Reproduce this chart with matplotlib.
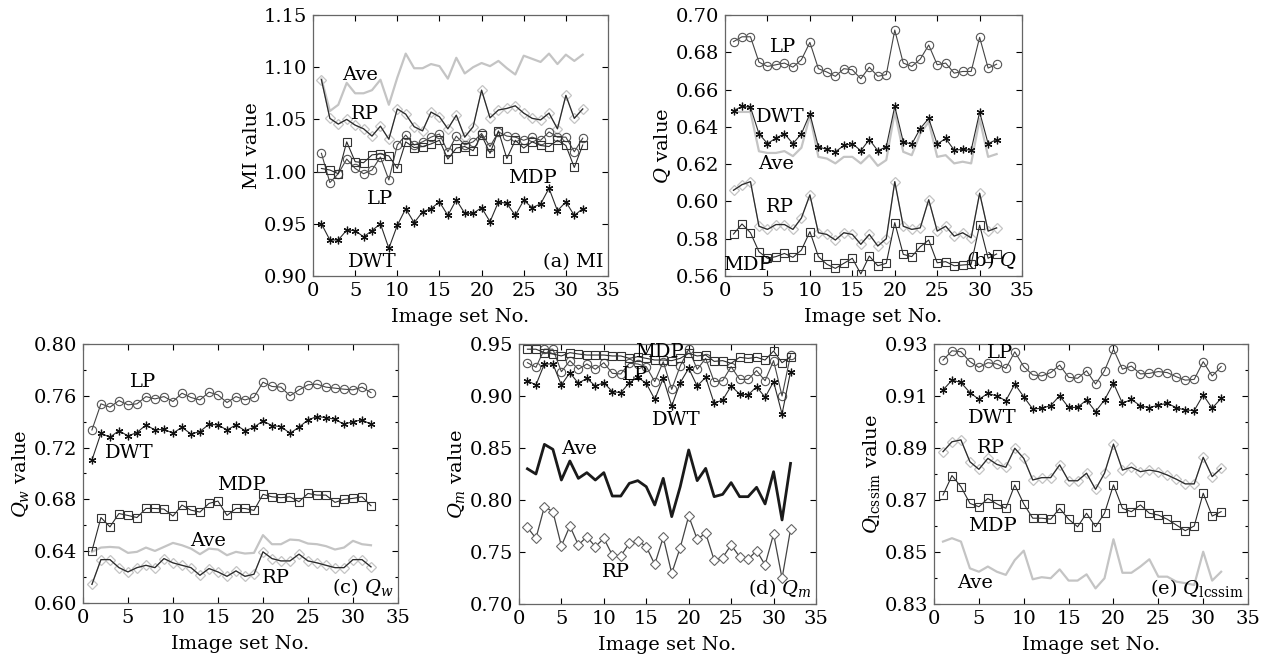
import numpy as np
import matplotlib.pyplot as plt
from matplotlib.ticker import MultipleLocator

plt.rcParams['font.family'] = 'DejaVu Serif'
plt.rcParams['mathtext.fontset'] = 'dejavuserif'
plt.rcParams['font.size'] = 12

x = np.arange(1, 33)  # image set No.

# (a) MI
mi_ave = [1.089, 1.058, 1.064, 1.085, 1.075, 1.075, 1.078, 1.088, 1.064, 1.090, 1.113, 1.099, 1.099, 1.103, 1.101, 1.089,
          1.109, 1.094, 1.100, 1.104, 1.101, 1.106, 1.099, 1.093, 1.111, 1.108, 1.105, 1.113, 1.103, 1.112, 1.106, 1.112]
mi_rp = [1.088, 1.051, 1.0455, 1.050, 1.0445, 1.041, 1.034, 1.0435, 1.031, 1.060, 1.055, 1.043, 1.039, 1.057, 1.0525, 1.041,
         1.054, 1.033, 1.043, 1.078, 1.0515, 1.059, 1.0605, 1.063, 1.056, 1.051, 1.0495, 1.056, 1.041, 1.073, 1.051, 1.060]
mi_lp = [1.0175, 0.9895, 0.998, 1.012, 1.003, 0.998, 1.0015, 1.014, 0.992, 1.0255, 1.035, 1.0255, 1.0285, 1.033, 1.036, 1.019,
         1.034, 1.0255, 1.0285, 1.0365, 1.024, 1.038, 1.034, 1.033, 1.030, 1.033, 1.030, 1.038, 1.033, 1.033, 1.019, 1.032]
mi_mdp = [1.003, 1.0015, 0.998, 1.0285, 1.0095, 1.0085, 1.016, 1.017, 1.015, 1.003, 1.0285, 1.023, 1.024, 1.0265, 1.030, 1.012,
          1.0225, 1.024, 1.020, 1.035, 1.0175, 1.039, 1.0125, 1.030, 1.0225, 1.0285, 1.025, 1.024, 1.030, 1.025, 1.004, 1.0255]
mi_dwt = [0.950, 0.9345, 0.9345, 0.944, 0.9435, 0.9375, 0.9435, 0.950, 0.9265, 0.9485, 0.9645, 0.951, 0.9615, 0.9645, 0.971, 0.958,
          0.973, 0.960, 0.960, 0.9655, 0.952, 0.971, 0.9695, 0.958, 0.9725, 0.9655, 0.969, 0.984, 0.9625, 0.971, 0.958, 0.9645]

# (b) Q
q_lp = [0.6857, 0.6883, 0.6883, 0.6747, 0.6724, 0.6733, 0.6742, 0.672, 0.676, 0.6853, 0.6712, 0.6694, 0.6671, 0.6712, 0.6706, 0.6658,
        0.672, 0.6671, 0.668, 0.6919, 0.6742, 0.6724, 0.6763, 0.6839, 0.6733, 0.6742, 0.6688, 0.6697, 0.6697, 0.688, 0.6715, 0.6736]
q_dwt = [0.6486, 0.651, 0.6505, 0.6363, 0.631, 0.634, 0.6363, 0.631, 0.6363, 0.647, 0.6293, 0.6279, 0.6266, 0.630, 0.631, 0.6272,
         0.6332, 0.6272, 0.6293, 0.651, 0.632, 0.6307, 0.6391, 0.6445, 0.6307, 0.6338, 0.6275, 0.6279, 0.6275, 0.6479, 0.631, 0.6332]
q_ave = [0.648, 0.648, 0.648, 0.6269, 0.626, 0.626, 0.627, 0.6243, 0.6288, 0.646, 0.6239, 0.623, 0.6204, 0.6239, 0.6239, 0.6204,
         0.6248, 0.6191, 0.6222, 0.648, 0.6266, 0.6248, 0.6364, 0.6427, 0.6239, 0.6248, 0.6204, 0.6213, 0.6204, 0.6443, 0.6239, 0.6254]
q_rp = [0.606, 0.609, 0.6106, 0.5867, 0.585, 0.5876, 0.5876, 0.585, 0.5911, 0.6035, 0.5832, 0.5823, 0.5793, 0.5832, 0.5823, 0.577,
        0.5823, 0.5761, 0.580, 0.6106, 0.5867, 0.585, 0.5858, 0.6009, 0.5841, 0.5867, 0.5814, 0.5832, 0.5805, 0.6044, 0.5841, 0.5858]
q_mdp = [0.5825, 0.5879, 0.5832, 0.573, 0.5695, 0.5704, 0.5721, 0.570, 0.5739, 0.5838, 0.5704, 0.5663, 0.5641, 0.5668, 0.5695, 0.5611,
         0.5707, 0.5655, 0.5668, 0.5886, 0.5716, 0.5704, 0.5757, 0.5793, 0.5671, 0.5677, 0.5655, 0.5659, 0.5663, 0.5873, 0.5695, 0.5718]

# (c) Qw
qw_lp = [0.7336, 0.7538, 0.7512, 0.7563, 0.753, 0.7538, 0.7594, 0.7576, 0.7594, 0.7556, 0.762, 0.7587, 0.7568, 0.7628, 0.7607, 0.7548,
         0.7594, 0.7568, 0.7589, 0.7705, 0.7672, 0.7667, 0.760, 0.7646, 0.7685, 0.769, 0.7667, 0.7659, 0.7651, 0.7646, 0.7667, 0.7625]
qw_dwt = [0.7104, 0.7311, 0.728, 0.7331, 0.729, 0.7316, 0.7375, 0.7336, 0.7342, 0.7311, 0.7357, 0.7305, 0.7324, 0.738, 0.7375, 0.7336,
          0.7375, 0.7331, 0.7357, 0.7406, 0.737, 0.7362, 0.7311, 0.7357, 0.7414, 0.744, 0.7432, 0.7419, 0.738, 0.7401, 0.7414, 0.738]
qw_mdp = [0.6402, 0.666, 0.6588, 0.6691, 0.6676, 0.666, 0.673, 0.673, 0.6725, 0.6671, 0.6756, 0.6717, 0.6702, 0.6769, 0.6787, 0.6676,
          0.673, 0.673, 0.6715, 0.6839, 0.682, 0.6813, 0.682, 0.6782, 0.6846, 0.6833, 0.6833, 0.6777, 0.680, 0.6808, 0.682, 0.6751]
qw_ave = [0.6395, 0.6428, 0.6433, 0.6428, 0.6387, 0.6395, 0.6428, 0.6402, 0.6433, 0.6464, 0.6446, 0.642, 0.6377, 0.642, 0.6413, 0.6369,
          0.6395, 0.6382, 0.6387, 0.6524, 0.6454, 0.6454, 0.649, 0.6485, 0.6459, 0.6454, 0.6439, 0.6413, 0.6428, 0.648, 0.6454, 0.6446]
qw_rp = [0.6144, 0.6335, 0.6335, 0.6273, 0.624, 0.6273, 0.6291, 0.6273, 0.6343, 0.631, 0.6291, 0.6273, 0.6214, 0.6266, 0.624, 0.6206,
         0.6248, 0.6206, 0.6222, 0.6395, 0.6343, 0.6325, 0.6325, 0.6377, 0.6325, 0.631, 0.6291, 0.6273, 0.6273, 0.6335, 0.6335, 0.6279]

# (d) Qm
qm_mdp = [0.945, 0.945, 0.9417, 0.9404, 0.9385, 0.9417, 0.9404, 0.9394, 0.9394, 0.9394, 0.9385, 0.9385, 0.9362, 0.9378, 0.9362, 0.9346,
          0.9346, 0.934, 0.9362, 0.941, 0.9385, 0.9394, 0.9333, 0.934, 0.9314, 0.9372, 0.9362, 0.9372, 0.9346, 0.9433, 0.932, 0.9378]
qm_lp = [0.932, 0.9276, 0.945, 0.945, 0.9234, 0.934, 0.9257, 0.9308, 0.9257, 0.932, 0.9218, 0.9212, 0.9314, 0.9308, 0.9282, 0.9138,
         0.933, 0.9064, 0.9289, 0.945, 0.9257, 0.9362, 0.9138, 0.9147, 0.9282, 0.916, 0.916, 0.9244, 0.9147, 0.934, 0.900, 0.9394]
qm_dwt = [0.9147, 0.9106, 0.9308, 0.9308, 0.9106, 0.9224, 0.9122, 0.917, 0.9096, 0.9128, 0.9042, 0.9032, 0.9128, 0.918, 0.9122, 0.8968,
          0.917, 0.8904, 0.9128, 0.9266, 0.9096, 0.918, 0.893, 0.8962, 0.9096, 0.9019, 0.901, 0.909, 0.8987, 0.9138, 0.8827, 0.9234]
qm_ave = [0.830, 0.825, 0.8535, 0.8487, 0.8192, 0.8375, 0.8208, 0.8263, 0.8192, 0.8263, 0.8038, 0.8038, 0.816, 0.8186, 0.8128, 0.7952,
          0.8208, 0.784, 0.8128, 0.8481, 0.8186, 0.8304, 0.8032, 0.8054, 0.8167, 0.8032, 0.8032, 0.8122, 0.7962, 0.8272, 0.7808, 0.8352]
qm_rp = [0.7737, 0.7631, 0.7936, 0.7888, 0.7558, 0.775, 0.7567, 0.7647, 0.7551, 0.7631, 0.7471, 0.7462, 0.7583, 0.7609, 0.7551, 0.7381,
         0.7641, 0.7295, 0.7542, 0.7846, 0.7622, 0.768, 0.7423, 0.7446, 0.7567, 0.7455, 0.7429, 0.7513, 0.7375, 0.7673, 0.7247, 0.7718]

# (e) Qlcssim
ql_lp = [0.9238, 0.9274, 0.927, 0.9232, 0.921, 0.9228, 0.9223, 0.9206, 0.927, 0.9213, 0.9181, 0.9177, 0.919, 0.9219, 0.9172, 0.9168,
         0.9197, 0.9146, 0.9197, 0.928, 0.9203, 0.9215, 0.9185, 0.9187, 0.9194, 0.919, 0.9174, 0.9161, 0.9164, 0.9232, 0.9177, 0.9213]
ql_dwt = [0.9123, 0.9161, 0.9152, 0.9113, 0.9087, 0.911, 0.910, 0.9082, 0.9146, 0.9097, 0.905, 0.9053, 0.9063, 0.9101, 0.9056, 0.9056,
          0.9085, 0.904, 0.9085, 0.9149, 0.9072, 0.9087, 0.9062, 0.9055, 0.9065, 0.9072, 0.9055, 0.9046, 0.9044, 0.9104, 0.9053, 0.9091]
ql_rp = [0.8886, 0.8924, 0.8931, 0.8847, 0.8818, 0.886, 0.8837, 0.8826, 0.8899, 0.886, 0.8777, 0.8786, 0.8786, 0.8835, 0.8774, 0.8774,
         0.8803, 0.8741, 0.8803, 0.8915, 0.8815, 0.8826, 0.8809, 0.8815, 0.8809, 0.8796, 0.878, 0.8762, 0.8762, 0.8864, 0.879, 0.8822]
ql_mdp = [0.8719, 0.8794, 0.8751, 0.8687, 0.8674, 0.8706, 0.8685, 0.8668, 0.8758, 0.8685, 0.863, 0.863, 0.8626, 0.8668, 0.8626, 0.8597,
          0.8649, 0.8597, 0.8649, 0.8758, 0.8668, 0.8655, 0.8681, 0.8649, 0.8642, 0.8626, 0.8604, 0.8582, 0.860, 0.8726, 0.8638, 0.8655]
ql_ave = [0.854, 0.8553, 0.854, 0.8437, 0.8424, 0.8444, 0.8424, 0.8412, 0.8469, 0.8505, 0.8395, 0.8403, 0.8399, 0.8433, 0.839, 0.839,
          0.8414, 0.836, 0.8399, 0.8549, 0.842, 0.842, 0.8444, 0.8472, 0.8405, 0.8405, 0.8386, 0.838, 0.8373, 0.8501, 0.839, 0.8424]

GRAY = '#c4c4c4'
DARK = '#2a2a2a'
FS = 14


def draw(ax, ave, rp, lp, mdp, dwt, ave_dark=False):
    if ave_dark:
        ax.plot(x, ave, color='#1a1a1a', lw=2.0)
        ax.plot(x, rp, color='#444444', lw=0.9, marker='D', ms=5, mfc='white', mec='#666666', mew=0.8)
    else:
        ax.plot(x, ave, color=GRAY, lw=1.6)
        ax.plot(x, rp, color=GRAY, lw=0.9, marker='D', ms=5, mfc='none', mec=GRAY, mew=0.9)
        ax.plot(x, rp, color=DARK, lw=0.9)
    ax.plot(x, lp, color='#444444', lw=0.8, marker='o', ms=6, mfc='none', mec='#555555', mew=0.8)
    ax.plot(x, mdp, color=DARK, lw=0.8, marker='s', ms=6, mfc='none', mec='#333333', mew=0.8)
    ax.plot(x, dwt, color=DARK, lw=0.8, marker=(6, 2, 0), ms=5.5, mec='#111111', mew=0.9)


def style(ax, ylo, yhi, ystep, ylabel, tag, minor=None):
    ax.set_xlim(0, 35)
    ax.set_ylim(ylo, yhi)
    ax.set_xticks(np.arange(0, 36, 5))
    ax.set_yticks(np.arange(ylo, yhi + ystep / 2, ystep))
    ax.yaxis.set_major_formatter(plt.FormatStrFormatter('%.2f'))
    if minor:
        ax.yaxis.set_minor_locator(MultipleLocator(minor))
    ax.tick_params(direction='in', which='both', top=True, right=True, labelsize=FS, length=4, width=0.8, pad=4)
    ax.tick_params(which='minor', length=2.5)
    for s in ax.spines.values():
        s.set_color('#666666')
        s.set_linewidth(0.9)
    ax.set_xlabel('Image set No.', fontsize=FS, labelpad=6)
    ax.set_ylabel(ylabel, fontsize=FS, labelpad=2)
    ax.text(0.985, 0.02, tag, transform=ax.transAxes, ha='right', va='bottom', fontsize=FS)


fig = plt.figure(figsize=(12.76, 6.57), dpi=100)
ax_a = fig.add_axes([0.2453, 0.5799, 0.2312, 0.3973])
ax_b = fig.add_axes([0.5682, 0.5799, 0.2328, 0.3973])
ax_c = fig.add_axes([0.0650, 0.0822, 0.2469, 0.3942])
ax_d = fig.add_axes([0.4067, 0.0807, 0.2328, 0.3957])
ax_e = fig.add_axes([0.7320, 0.0807, 0.2461, 0.3957])

draw(ax_a, mi_ave, mi_rp, mi_lp, mi_mdp, mi_dwt)
style(ax_a, 0.90, 1.15, 0.05, 'MI value', '(a) MI')
for t, tx, ty in [('Ave', 5.6, 1.0925), ('RP', 6.2, 1.055), ('LP', 8.0, 0.974), ('MDP', 26.0, 0.994), ('DWT', 7.0, 0.913)]:
    ax_a.text(tx, ty, t, ha='center', va='center', fontsize=FS)

draw(ax_b, q_ave, q_rp, q_lp, q_mdp, q_dwt)
style(ax_b, 0.56, 0.70, 0.02, '$Q$ value', '(b) $Q$')
for t, tx, ty in [('LP', 6.8, 0.6828), ('DWT', 6.5, 0.6453), ('Ave', 6.0, 0.620), ('RP', 6.5, 0.597), ('MDP', 2.6, 0.566)]:
    ax_b.text(tx, ty, t, ha='center', va='center', fontsize=FS)

draw(ax_c, qw_ave, qw_rp, qw_lp, qw_mdp, qw_dwt)
style(ax_c, 0.60, 0.80, 0.04, '$Q_w$ value', '(c) $Q_w$', minor=0.02)
for t, tx, ty in [('LP', 6.7, 0.7707), ('DWT', 5.2, 0.716), ('MDP', 17.6, 0.691), ('Ave', 13.9, 0.648), ('RP', 21.4, 0.619)]:
    ax_c.text(tx, ty, t, ha='center', va='center', fontsize=FS)

draw(ax_d, qm_ave, qm_rp, qm_lp, qm_mdp, qm_dwt, ave_dark=True)
style(ax_d, 0.70, 0.95, 0.05, '$Q_m$ value', '(d) $Q_m$')
for t, tx, ty in [('MDP', 16.6, 0.942), ('LP', 13.7, 0.920), ('DWT', 18.5, 0.877), ('Ave', 7.1, 0.849), ('RP', 11.4, 0.731)]:
    ax_d.text(tx, ty, t, ha='center', va='center', fontsize=FS)

draw(ax_e, ql_ave, ql_rp, ql_lp, ql_mdp, ql_dwt)
style(ax_e, 0.83, 0.93, 0.02, '$Q_{\\rm lcssim}$ value', '(e) $Q_{\\rm lcssim}$', minor=0.01)
for t, tx, ty in [('LP', 7.4, 0.9265), ('DWT', 6.5, 0.9015), ('RP', 6.3, 0.890), ('MDP', 6.5, 0.860), ('Ave', 4.6, 0.838)]:
    ax_e.text(tx, ty, t, ha='center', va='center', fontsize=FS)

fig.savefig('out.png', dpi=100)
